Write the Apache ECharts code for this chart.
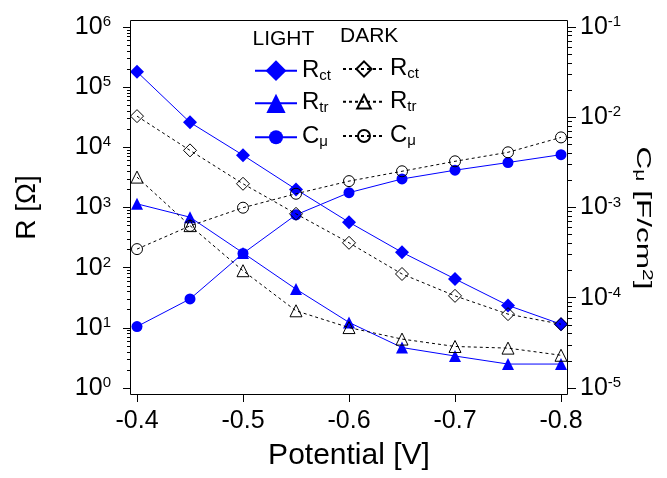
<!DOCTYPE html>
<html><head><meta charset="utf-8">
<script src="https://cdn.jsdelivr.net/npm/echarts@6/dist/echarts.min.js"></script>
<style>html,body{margin:0;padding:0;background:#fff}#c{width:667px;height:478px}</style>
</head><body><div id="c"></div>
<script>
// ---- data ----
const POTENTIAL = [-0.40, -0.45, -0.50, -0.55, -0.60, -0.65, -0.70, -0.75, -0.80];
const LIGHT_RCT = [1.8e5, 2.6e4, 7.4e3, 2.0e3, 570, 180, 65, 23.6, 11.5];
const LIGHT_RTR = [1150, 690, 176, 44, 12.3, 4.7, 3.4, 2.5, 2.5];
const LIGHT_CMU = [4.8e-5, 9.7e-5, 3.1e-4, 8.3e-4, 1.46e-3, 2.07e-3, 2.59e-3, 3.15e-3, 3.85e-3];
const DARK_RCT = [3.3e4, 8.9e3, 2.48e3, 785, 259, 78.5, 34, 16.9, 11.5];
const DARK_RTR = [3200, 500, 89, 19.2, 10.1, 6.5, 4.9, 4.6, 3.5];
const DARK_CMU = [3.46e-4, 6.25e-4, 9.95e-4, 1.42e-3, 1.96e-3, 2.52e-3, 3.25e-3, 4.09e-3, 5.98e-3];
const X_RANGE = [-0.8, -0.4];
const R_RANGE = [1, 1e6];
const C_RANGE = [1e-5, 1e-1];
const X_TITLE = 'Potential [V]';
const R_TITLE = 'R [Ω]';
const C_TITLE = '{m|C}{s|μ}{m| [F/cm}{p|2}{m|]}';
const LEGEND_LABELS = {
  'L_Rct': '{m|R}{s|ct}', 'L_Rtr': '{m|R}{s|tr}', 'L_Cmu': '{m|C}{s|μ}',
  'D_Rct': '{m|R}{s|ct}', 'D_Rtr': '{m|R}{s|tr}', 'D_Cmu': '{m|C}{s|μ}'
};

const FONT = 'Liberation Sans';
const BLUE = '#0000ff';
const GRID = {left: 137, right: 106, top: 27, bottom: 90};
const YL_OFF = 6, YR_OFF = 7, X_OFF = 6;

const expRich = {
  b: {fontSize: 25, lineHeight: 25, fontFamily: FONT, color: '#000', padding: [8, 0, 0, 0], verticalAlign: 'bottom'},
  s: {fontSize: 15, lineHeight: 15, fontFamily: FONT, color: '#000', verticalAlign: 'top'}
};
function expFmt(v) { return '{b|10}{s|' + Math.round(Math.log10(v)) + '}'; }

const legRich = {
  m: {fontSize: 24, lineHeight: 25, fontFamily: FONT, color: '#000', verticalAlign: 'top'},
  s: {fontSize: 15, lineHeight: 15, fontFamily: FONT, color: '#000', verticalAlign: 'bottom'}
};
function legend(name, left, cy, h) {
  return {
    data: [name], left: left, top: cy - 12.5, orient: 'vertical', padding: 0,
    itemWidth: 42, itemHeight: h, selectedMode: false,
    formatter: n => LEGEND_LABELS[n],
    textStyle: {fontFamily: FONT, fontSize: 24, color: '#000', rich: legRich}
  };
}

function lightSeries(name, data, symbol, size, yIdx) {
  return {
    name: name, type: 'line', yAxisIndex: yIdx,
    data: POTENTIAL.map((x, i) => [x, data[i]]),
    symbol: symbol, symbolSize: size,
    lineStyle: {color: BLUE, width: 1},
    itemStyle: {color: BLUE, borderWidth: 0},
    z: 2, animation: false
  };
}
function darkSeries(name, data, symbol, size, yIdx) {
  return {
    name: name, type: 'line', yAxisIndex: yIdx,
    data: POTENTIAL.map((x, i) => [x, data[i]]),
    symbol: symbol, symbolSize: size,
    lineStyle: {color: '#000', width: 1, type: [3, 3]},
    itemStyle: {color: 'rgba(255,255,255,0)', borderColor: '#000', borderWidth: 1},
    z: 3, animation: false
  };
}

function yAxisCommon(range, pos, off, margin) {
  return {
    type: 'log', min: range[0], max: range[1], offset: off, position: pos,
    axisLine: {show: false}, splitLine: {show: false},
    axisTick: {show: true, length: 8, lineStyle: {color: '#000', width: 1}},
    minorTick: {show: true, splitNumber: 9, length: 4, lineStyle: {color: '#000', width: 1}},
    axisLabel: {margin: margin, formatter: expFmt, rich: expRich}
  };
}

const chart = echarts.init(document.getElementById('c'), null, {renderer: 'canvas'});
const yL = yAxisCommon(R_RANGE, 'left', YL_OFF, 20);
yL.name = R_TITLE; yL.nameLocation = 'middle'; yL.nameGap = 90; yL.nameRotate = 90;
yL.nameTextStyle = {fontSize: 28, fontFamily: FONT, color: '#000'};
const yR = yAxisCommon(C_RANGE, 'right', YR_OFF, 12);
chart.setOption({
  animation: false,
  backgroundColor: '#fff',
  grid: GRID,
  xAxis: {
    type: 'value', inverse: true, min: X_RANGE[0], max: X_RANGE[1], interval: 0.1,
    offset: X_OFF,
    axisLine: {show: false}, splitLine: {show: false},
    axisTick: {show: true, length: 8, lineStyle: {color: '#000', width: 1}},
    axisLabel: {fontSize: 25, fontFamily: FONT, color: '#000', margin: 15, formatter: v => v.toFixed(1)},
    name: X_TITLE, nameLocation: 'middle', nameGap: 47,
    nameTextStyle: {fontSize: 30, fontFamily: FONT, color: '#000'}
  },
  yAxis: [yL, yR],
  legend: [
    legend('L_Rct', 254, 70.7, 26),
    legend('L_Rtr', 254, 103.3, 24),
    legend('L_Cmu', 254, 137.3, 17.5),
    legend('D_Rct', 342, 69, 19),
    legend('D_Rtr', 342, 101.7, 17),
    legend('D_Cmu', 342, 136, 15)
  ],
  graphic: [
    {type: 'rect', shape: {x: 130.5, y: 20.5, width: 437, height: 374}, style: {fill: null, stroke: '#000', lineWidth: 1}, z: 10, silent: true},
    {type: 'text', x: 252.5, y: 29, style: {text: 'LIGHT', fontSize: 21, fontFamily: FONT, fill: '#000'}, z: 10},
    {type: 'text', x: 340, y: 26, style: {text: 'DARK', fontSize: 21, fontFamily: FONT, fill: '#000'}, z: 10},
    {type: 'text', x: 643, y: 218, rotation: -Math.PI / 2, scaleX: 1.5, scaleY: 1, z: 10,
     style: {text: C_TITLE, align: 'center', verticalAlign: 'middle', fontFamily: FONT, fontSize: 21, fill: '#000',
       rich: {
         m: {fontSize: 21, lineHeight: 21, fontFamily: FONT, fill: '#000', padding: [6, 0, 6, 0]},
         s: {fontSize: 14, lineHeight: 14, fontFamily: FONT, fill: '#000', verticalAlign: 'bottom'},
         p: {fontSize: 14, lineHeight: 14, fontFamily: FONT, fill: '#000', verticalAlign: 'top'}
       }}}
  ],
  series: [
    lightSeries('L_Rct', LIGHT_RCT, 'diamond', 14, 0),
    lightSeries('L_Rtr', LIGHT_RTR, 'triangle', 12, 0),
    lightSeries('L_Cmu', LIGHT_CMU, 'circle', 11, 1),
    darkSeries('D_Rct', DARK_RCT, 'diamond', 13, 0),
    darkSeries('D_Rtr', DARK_RTR, 'triangle', 12, 0),
    darkSeries('D_Cmu', DARK_CMU, 'circle', 11, 1)
  ]
});
</script></body></html>
